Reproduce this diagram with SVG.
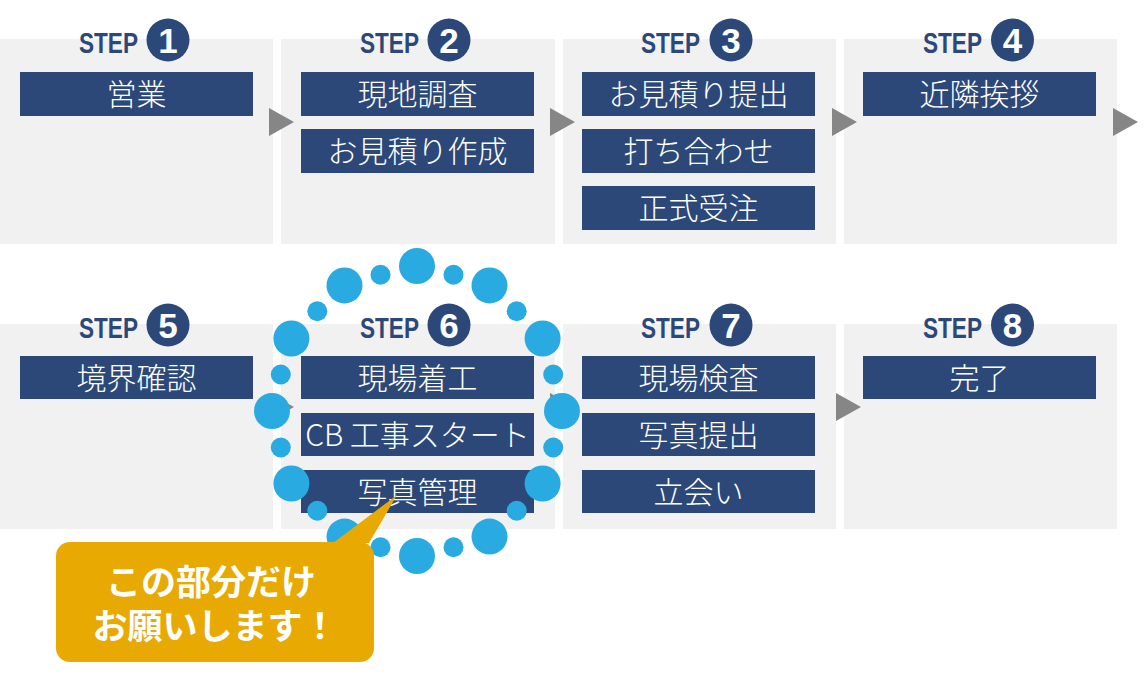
<svg xmlns="http://www.w3.org/2000/svg" width="1148" height="683" viewBox="0 0 1148 683">
<style>
.panel{fill:#f1f1f1}
.bar{fill:#2c4879}
.bt{fill:#ffffff;font-family:"Noto Sans CJK JP","Noto Sans",sans-serif;font-weight:300;font-size:30px;text-anchor:middle}
.step{fill:#2c4879;font-family:"Liberation Sans",Arial,sans-serif;font-weight:bold;font-size:29.5px}
.num{fill:#2c4879}
.nt{fill:#ffffff;font-family:"Liberation Sans",Arial,sans-serif;font-weight:bold;font-size:35px;text-anchor:middle}
.arr{fill:#868686}
.dot{fill:#29abe2}
.ct{fill:#ffffff;font-family:"Noto Sans CJK JP",sans-serif;font-weight:bold;font-size:35px;text-anchor:middle}
</style>
<rect width="1148" height="683" fill="#ffffff"/>

<g id="step1">
<rect class="panel" x="0" y="39" width="273" height="205"/>
<text class="step" x="79" y="53" textLength="59" lengthAdjust="spacingAndGlyphs">STEP</text>
<circle class="num" cx="168" cy="40" r="21.5"/><text class="nt" x="168" y="53">1</text>
<rect class="bar" x="20" y="72" width="233" height="44"/><text class="bt" x="136.5" y="105">営業</text>
</g>
<g id="step2">
<rect class="panel" x="281" y="39" width="274" height="205"/>
<text class="step" x="360" y="53" textLength="59" lengthAdjust="spacingAndGlyphs">STEP</text>
<circle class="num" cx="449" cy="40" r="21.5"/><text class="nt" x="449" y="53">2</text>
<rect class="bar" x="301" y="72" width="233" height="44"/><text class="bt" x="417.5" y="105">現地調査</text>
<rect class="bar" x="301" y="129" width="233" height="44"/><text class="bt" x="417.5" y="162">お見積り作成</text>
</g>
<g id="step3">
<rect class="panel" x="563" y="39" width="273" height="205"/>
<text class="step" x="641" y="53" textLength="59" lengthAdjust="spacingAndGlyphs">STEP</text>
<circle class="num" cx="731" cy="40" r="21.5"/><text class="nt" x="731" y="53">3</text>
<rect class="bar" x="582" y="72" width="233" height="44"/><text class="bt" x="698.5" y="105">お見積り提出</text>
<rect class="bar" x="582" y="129" width="233" height="44"/><text class="bt" x="698.5" y="162">打ち合わせ</text>
<rect class="bar" x="582" y="186" width="233" height="44"/><text class="bt" x="698.5" y="219">正式受注</text>
</g>
<g id="step4">
<rect class="panel" x="844" y="39" width="273" height="205"/>
<text class="step" x="923" y="53" textLength="59" lengthAdjust="spacingAndGlyphs">STEP</text>
<circle class="num" cx="1012.5" cy="40" r="21.5"/><text class="nt" x="1012.5" y="53">4</text>
<rect class="bar" x="863" y="72" width="233" height="44"/><text class="bt" x="979.5" y="105">近隣挨拶</text>
</g>

<g id="step5">
<rect class="panel" x="0" y="324" width="273" height="205"/>
<text class="step" x="79" y="338" textLength="59" lengthAdjust="spacingAndGlyphs">STEP</text>
<circle class="num" cx="168" cy="325" r="21.5"/><text class="nt" x="168" y="338">5</text>
<rect class="bar" x="20" y="356" width="233" height="43"/><text class="bt" x="136.5" y="388.5">境界確認</text>
</g>
<g id="step6">
<rect class="panel" x="281" y="324" width="274" height="205"/>
<text class="step" x="360" y="338" textLength="59" lengthAdjust="spacingAndGlyphs">STEP</text>
<circle class="num" cx="449" cy="325" r="21.5"/><text class="nt" x="449" y="338">6</text>
<rect class="bar" x="301" y="356" width="233" height="43"/><text class="bt" x="417.5" y="388.5">現場着工</text>
<rect class="bar" x="301" y="413" width="233" height="43"/><text class="bt" x="417.5" y="445.5">CB 工事スタート</text>
<rect class="bar" x="301" y="470" width="233" height="43"/><text class="bt" x="417.5" y="502.5">写真管理</text>
</g>
<g id="step7">
<rect class="panel" x="563" y="324" width="273" height="205"/>
<text class="step" x="641" y="338" textLength="59" lengthAdjust="spacingAndGlyphs">STEP</text>
<circle class="num" cx="731" cy="325" r="21.5"/><text class="nt" x="731" y="338">7</text>
<rect class="bar" x="582" y="356" width="233" height="43"/><text class="bt" x="698.5" y="388.5">現場検査</text>
<rect class="bar" x="582" y="413" width="233" height="43"/><text class="bt" x="698.5" y="445.5">写真提出</text>
<rect class="bar" x="582" y="470" width="233" height="43"/><text class="bt" x="698.5" y="502.5">立会い</text>
</g>
<g id="step8">
<rect class="panel" x="844" y="324" width="273" height="205"/>
<text class="step" x="923" y="338" textLength="59" lengthAdjust="spacingAndGlyphs">STEP</text>
<circle class="num" cx="1012.5" cy="325" r="21.5"/><text class="nt" x="1012.5" y="338">8</text>
<rect class="bar" x="863" y="356" width="233" height="43"/><text class="bt" x="979.5" y="388.5">完了</text>
</g>

<g id="connectors">
<polygon class="arr" points="269,108 294,122 269,136"/>
<polygon class="arr" points="550,108 575,122 550,136"/>
<polygon class="arr" points="832,108 857,122 832,136"/>
<polygon class="arr" points="1113,108 1138,122 1113,136"/>
<polygon class="arr" points="269,393 294,407 269,421"/>
<polygon class="arr" points="550,393 575,407 550,421"/>
<polygon class="arr" points="836,393 861,407 836,421"/>
</g>

<g id="highlight-ring">
<circle class="dot" cx="417" cy="266" r="18"/>
<circle class="dot" cx="453.5" cy="274.8" r="10"/>
<circle class="dot" cx="489.5" cy="285.4" r="18"/>
<circle class="dot" cx="516.7" cy="311.3" r="10"/>
<circle class="dot" cx="542.6" cy="338.5" r="18"/>
<circle class="dot" cx="553.2" cy="374.5" r="10"/>
<circle class="dot" cx="562" cy="411" r="18"/>
<circle class="dot" cx="553.2" cy="447.5" r="10"/>
<circle class="dot" cx="542.6" cy="483.5" r="18"/>
<circle class="dot" cx="516.7" cy="510.7" r="10"/>
<circle class="dot" cx="489.5" cy="536.6" r="18"/>
<circle class="dot" cx="453.5" cy="547.2" r="10"/>
<circle class="dot" cx="417" cy="556" r="18"/>
<circle class="dot" cx="380.5" cy="547.2" r="10"/>
<circle class="dot" cx="344.5" cy="536.6" r="18"/>
<circle class="dot" cx="317.3" cy="510.7" r="10"/>
<circle class="dot" cx="291.4" cy="483.5" r="18"/>
<circle class="dot" cx="280.8" cy="447.5" r="10"/>
<circle class="dot" cx="272" cy="411" r="18"/>
<circle class="dot" cx="280.8" cy="374.5" r="10"/>
<circle class="dot" cx="291.4" cy="338.5" r="18"/>
<circle class="dot" cx="317.3" cy="311.3" r="10"/>
<circle class="dot" cx="344.5" cy="285.4" r="18"/>
<circle class="dot" cx="380.5" cy="274.8" r="10"/>
</g>

<g id="callout">
<rect x="56" y="542" width="318" height="120" rx="14" fill="#e8aa02"/>
<polygon points="333,543 397,495 369,543" fill="#e8aa02"/>
<text class="ct"><tspan x="211" y="595">この部分だけ</tspan><tspan x="215" y="639">お願いします！</tspan></text>
</g>
</svg>
